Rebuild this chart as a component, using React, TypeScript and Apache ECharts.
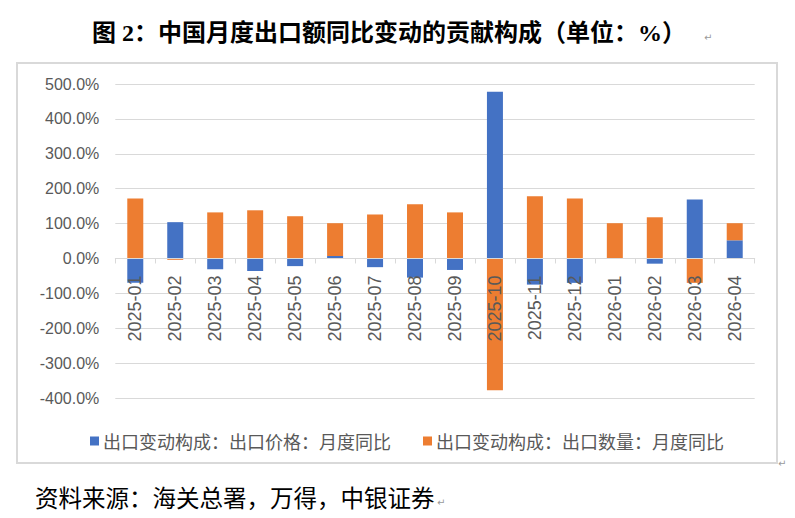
import React, { useEffect, useRef } from "react";
import * as echarts from "echarts";

// Months on the category axis
const months = [
  "2025-01", "2025-02", "2025-03", "2025-04", "2025-05", "2025-06", "2025-07", "2025-08",
  "2025-09", "2025-10", "2025-11", "2025-12", "2026-01", "2026-02", "2026-03", "2026-04",
];

// Contribution of export prices to the YoY change (%)
const priceContribution = [-70, 104, -31, -36, -22, 7, -25, -55, -33, 478, -75, -70, 0, -15, 169, 52];

// Contribution of export volumes to the YoY change (%)
const volumeContribution = [172, -4, 132, 138, 121, 94, 126, 155, 132, -378, 178, 172, 101, 118, -70, 49];

const seriesNames = ["出口变动构成：出口价格：月度同比", "出口变动构成：出口数量：月度同比"];

const titleText = "图 2：中国月度出口额同比变动的贡献构成（单位：%）";
const sourceText = "资料来源：海关总署，万得，中银证券";

const yMin = -400;
const yMax = 500;
const yStep = 100;

const BLUE = "#4472C4";
const ORANGE = "#ED7D31";
const GRAY_TEXT = "#595959";
const GRID_LINE = "#D9D9D9";

// Plot area
const GRID_TOP = 84;
const GRID_BOTTOM = 120;
const CHART_H = 518;
const plotHeight = CHART_H - GRID_TOP - GRID_BOTTOM;
// Lift the category axis from the bottom edge up to the zero line
const zeroOffset = -((0 - yMin) / (yMax - yMin)) * plotHeight;

export default function App() {
  const ref = useRef<HTMLDivElement>(null);

  useEffect(() => {
    document.body.style.margin = "0";
    const chart = echarts.init(ref.current!, null, { renderer: "svg" });
    chart.setOption({
      animation: false,
      backgroundColor: "#ffffff",
      grid: { left: 115.3, right: 40.3, top: GRID_TOP, bottom: GRID_BOTTOM, containLabel: false },
      legend: {
        left: 85,
        top: 427,
        itemWidth: 9,
        itemHeight: 9,
        itemGap: 32,
        icon: "rect",
        textStyle: {
          color: GRAY_TEXT,
          fontSize: 18,
          fontFamily: "Noto Sans CJK SC, sans-serif",
          padding: [0, 0, 0, -1],
        },
        data: seriesNames,
      },
      xAxis: {
        type: "category",
        data: months,
        position: "bottom",
        offset: zeroOffset,
        z: 5,
        axisLine: { onZero: false, lineStyle: { color: GRID_LINE, width: 1 } },
        axisTick: { show: true, length: 5, lineStyle: { color: GRID_LINE } },
        axisLabel: {
          rotate: 90,
          margin: 17,
          color: GRAY_TEXT,
          fontSize: 18,
          fontFamily: "Liberation Sans, Arial, sans-serif",
        },
      },
      yAxis: {
        type: "value",
        min: yMin,
        max: yMax,
        interval: yStep,
        axisLine: { show: false },
        axisTick: { show: false },
        splitLine: { lineStyle: { color: GRID_LINE, width: 1 } },
        axisLabel: {
          margin: 16,
          color: GRAY_TEXT,
          fontSize: 16,
          fontFamily: "Liberation Sans, Arial, sans-serif",
          formatter: (v: number) => v.toFixed(1) + "%",
        },
      },
      series: [
        {
          name: seriesNames[0],
          type: "bar",
          stack: "contribution",
          barWidth: 16,
          itemStyle: { color: BLUE },
          data: priceContribution,
        },
        {
          name: seriesNames[1],
          type: "bar",
          stack: "contribution",
          barWidth: 16,
          itemStyle: { color: ORANGE },
          data: volumeContribution,
        },
      ],
      graphic: [
        {
          type: "rect",
          shape: { x: 17, y: 63, width: 760, height: 400 },
          style: { fill: "none", stroke: GRID_LINE, lineWidth: 2 },
          silent: true,
        },
        {
          type: "text",
          x: 92,
          y: 33,
          style: {
            text: titleText,
            fill: "#000000",
            font: "bold 24px 'Liberation Serif', 'Noto Sans CJK SC', serif",
            align: "left",
            verticalAlign: "middle",
            textAlign: "left",
            textVerticalAlign: "middle",
          },
        },
        {
          type: "text",
          x: 704,
          y: 37,
          style: {
            text: "↵",
            fill: "#9a9a9a",
            font: "10px 'DejaVu Sans', sans-serif",
            align: "left",
            verticalAlign: "middle",
            textAlign: "left",
            textVerticalAlign: "middle",
          },
        },
        {
          type: "text",
          x: 778,
          y: 463,
          style: {
            text: "↵",
            fill: "#9a9a9a",
            font: "10px 'DejaVu Sans', sans-serif",
            align: "left",
            verticalAlign: "middle",
            textAlign: "left",
            textVerticalAlign: "middle",
          },
        },
        {
          type: "text",
          x: 35,
          y: 497,
          style: {
            text: sourceText,
            fill: "#000000",
            font: "23.5px 'Noto Sans CJK SC', serif",
            align: "left",
            verticalAlign: "middle",
            textAlign: "left",
            textVerticalAlign: "middle",
          },
        },
        {
          type: "text",
          x: 437,
          y: 502,
          style: {
            text: "↵",
            fill: "#9a9a9a",
            font: "10px 'DejaVu Sans', sans-serif",
            align: "left",
            verticalAlign: "middle",
            textAlign: "left",
            textVerticalAlign: "middle",
          },
        },
      ],
    });
    return () => chart.dispose();
  }, []);

  return (
    <div
      ref={ref}
      style={{ position: "absolute", left: 0, top: 0, width: 795, height: 518 }}
    />
  );
}
